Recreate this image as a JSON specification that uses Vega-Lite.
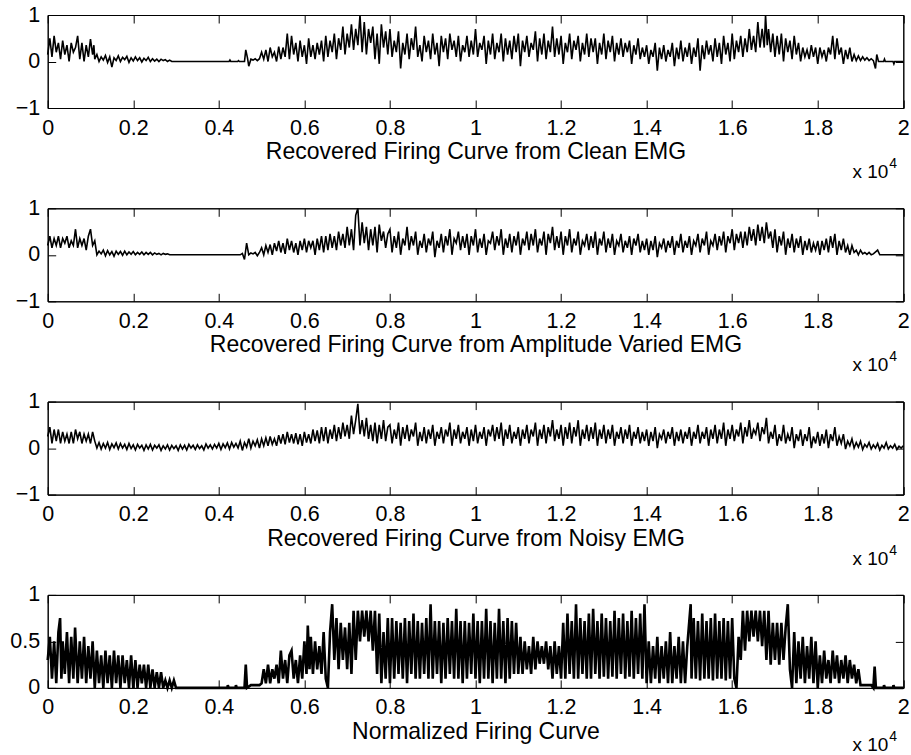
{
"$schema": "https://vega.github.io/schema/vega-lite/v6.json",
"padding": {"left": 8.7, "top": 3, "right": 0, "bottom": 0},
"background": "white",
"bounds": "flush",
"spacing": 100.3,
"config": {
 "view": {"stroke": "black", "strokeWidth": 1},
 "axis": {"domainColor": "black", "tickColor": "black", "labelColor": "black", "titleColor": "black", "labelFont": "Liberation Sans", "titleFont": "Liberation Sans", "labelFontSize": 21.5, "titleFontSize": 23, "titleFontWeight": "normal", "grid": false, "tickSize": -8, "domainWidth": 1, "tickWidth": 1, "labelFlush": false, "labelOverlap": false},
 "text": {"font": "Liberation Sans", "color": "black"}
},
"datasets": {
"clean": [{"x":0,"y":0.15},{"x":50,"y":0.5},{"x":100,"y":0.1},{"x":150,"y":0.55},{"x":200,"y":0.2},{"x":250,"y":0.4},{"x":300,"y":0.05},{"x":350,"y":0.45},{"x":400,"y":0.15},{"x":450,"y":0.35},{"x":500,"y":0.0},{"x":550,"y":0.4},{"x":600,"y":0.2},{"x":650,"y":0.3},{"x":700,"y":0.55},{"x":750,"y":0.05},{"x":800,"y":0.4},{"x":850,"y":0.0},{"x":900,"y":0.35},{"x":950,"y":0.1},{"x":1000,"y":0.48},{"x":1050,"y":0.15},{"x":1080,"y":0.35},{"x":1100,"y":0.05},{"x":1150,"y":0.15},{"x":1200,"y":0.0},{"x":1250,"y":0.1},{"x":1300,"y":0.03},{"x":1350,"y":0.13},{"x":1400,"y":-0.02},{"x":1450,"y":0.1},{"x":1500,"y":-0.12},{"x":1550,"y":0.08},{"x":1600,"y":0.02},{"x":1650,"y":0.12},{"x":1700,"y":0.0},{"x":1750,"y":0.09},{"x":1800,"y":0.04},{"x":1850,"y":0.11},{"x":1900,"y":-0.02},{"x":1950,"y":0.08},{"x":2000,"y":0.01},{"x":2050,"y":0.1},{"x":2100,"y":0.02},{"x":2150,"y":0.08},{"x":2200,"y":-0.01},{"x":2250,"y":0.07},{"x":2300,"y":0.02},{"x":2350,"y":0.09},{"x":2400,"y":0.0},{"x":2450,"y":0.06},{"x":2500,"y":0.01},{"x":2550,"y":0.05},{"x":2600,"y":0.0},{"x":2650,"y":0.05},{"x":2700,"y":0.02},{"x":2750,"y":0.04},{"x":2800,"y":0.0},{"x":2850,"y":0.03},{"x":2900,"y":0.0},{"x":4240,"y":0.0},{"x":4260,"y":0.03},{"x":4280,"y":0.0},{"x":4440,"y":0.0},{"x":4460,"y":0.02},{"x":4480,"y":0.0},{"x":4600,"y":0.0},{"x":4630,"y":0.25},{"x":4670,"y":0.08},{"x":4700,"y":-0.1},{"x":4750,"y":0.05},{"x":4800,"y":0.03},{"x":4850,"y":0.06},{"x":4900,"y":0.02},{"x":4950,"y":0.06},{"x":5000,"y":0.2},{"x":5050,"y":0.05},{"x":5100,"y":0.25},{"x":5150,"y":0.0},{"x":5200,"y":0.3},{"x":5250,"y":0.1},{"x":5300,"y":0.2},{"x":5350,"y":0.0},{"x":5400,"y":0.32},{"x":5450,"y":0.05},{"x":5500,"y":0.3},{"x":5550,"y":0.1},{"x":5600,"y":0.6},{"x":5650,"y":0.05},{"x":5700,"y":0.55},{"x":5750,"y":0.15},{"x":5800,"y":0.4},{"x":5850,"y":0.0},{"x":5900,"y":0.45},{"x":5950,"y":0.1},{"x":6000,"y":0.35},{"x":6050,"y":-0.05},{"x":6100,"y":0.5},{"x":6150,"y":0.1},{"x":6200,"y":0.35},{"x":6250,"y":0.05},{"x":6300,"y":0.4},{"x":6350,"y":0.15},{"x":6400,"y":0.45},{"x":6450,"y":0.0},{"x":6500,"y":0.55},{"x":6550,"y":0.1},{"x":6600,"y":0.45},{"x":6650,"y":0.2},{"x":6700,"y":0.6},{"x":6750,"y":0.05},{"x":6800,"y":0.5},{"x":6850,"y":0.25},{"x":6900,"y":0.75},{"x":6950,"y":0.15},{"x":7000,"y":0.6},{"x":7050,"y":0.3},{"x":7100,"y":0.8},{"x":7150,"y":0.25},{"x":7200,"y":0.7},{"x":7250,"y":0.35},{"x":7300,"y":1.0},{"x":7350,"y":0.2},{"x":7400,"y":0.85},{"x":7450,"y":0.15},{"x":7500,"y":0.7},{"x":7550,"y":0.4},{"x":7600,"y":0.75},{"x":7650,"y":0.05},{"x":7700,"y":0.6},{"x":7750,"y":-0.05},{"x":7800,"y":0.8},{"x":7850,"y":0.3},{"x":7900,"y":0.65},{"x":7950,"y":0.15},{"x":8000,"y":0.7},{"x":8050,"y":0.1},{"x":8100,"y":0.45},{"x":8150,"y":0.2},{"x":8200,"y":0.65},{"x":8250,"y":-0.15},{"x":8300,"y":0.4},{"x":8350,"y":0.15},{"x":8400,"y":0.6},{"x":8450,"y":0.05},{"x":8500,"y":0.5},{"x":8550,"y":0.25},{"x":8600,"y":0.75},{"x":8650,"y":0.1},{"x":8700,"y":0.35},{"x":8750,"y":0.0},{"x":8800,"y":0.55},{"x":8850,"y":0.2},{"x":8900,"y":0.45},{"x":8950,"y":0.05},{"x":9000,"y":0.6},{"x":9050,"y":0.15},{"x":9100,"y":0.4},{"x":9150,"y":-0.1},{"x":9200,"y":0.55},{"x":9250,"y":0.2},{"x":9300,"y":0.5},{"x":9350,"y":0.05},{"x":9400,"y":0.6},{"x":9450,"y":0.25},{"x":9500,"y":0.45},{"x":9550,"y":0.1},{"x":9600,"y":0.55},{"x":9650,"y":0.0},{"x":9700,"y":0.35},{"x":9750,"y":0.2},{"x":9800,"y":0.55},{"x":9850,"y":0.1},{"x":9900,"y":0.45},{"x":9950,"y":0.15},{"x":10000,"y":0.7},{"x":10050,"y":0.1},{"x":10100,"y":0.4},{"x":10150,"y":0.25},{"x":10200,"y":0.55},{"x":10250,"y":-0.05},{"x":10300,"y":0.45},{"x":10350,"y":0.15},{"x":10400,"y":0.6},{"x":10450,"y":0.05},{"x":10500,"y":0.4},{"x":10550,"y":0.2},{"x":10600,"y":0.6},{"x":10650,"y":0.0},{"x":10700,"y":0.5},{"x":10750,"y":0.15},{"x":10800,"y":0.45},{"x":10850,"y":0.05},{"x":10900,"y":0.55},{"x":10950,"y":0.2},{"x":11000,"y":0.6},{"x":11050,"y":-0.1},{"x":11100,"y":0.45},{"x":11150,"y":0.2},{"x":11200,"y":0.55},{"x":11250,"y":0.1},{"x":11300,"y":0.4},{"x":11350,"y":0.25},{"x":11400,"y":0.65},{"x":11450,"y":0.0},{"x":11500,"y":0.5},{"x":11550,"y":0.15},{"x":11600,"y":0.6},{"x":11650,"y":0.05},{"x":11700,"y":0.45},{"x":11750,"y":0.2},{"x":11800,"y":0.75},{"x":11850,"y":0.1},{"x":11900,"y":0.5},{"x":11950,"y":0.15},{"x":12000,"y":0.55},{"x":12050,"y":-0.05},{"x":12100,"y":0.4},{"x":12150,"y":0.2},{"x":12200,"y":0.6},{"x":12250,"y":0.05},{"x":12300,"y":0.45},{"x":12350,"y":0.25},{"x":12400,"y":0.55},{"x":12450,"y":0.0},{"x":12500,"y":0.4},{"x":12550,"y":0.15},{"x":12600,"y":0.6},{"x":12650,"y":0.1},{"x":12700,"y":0.5},{"x":12750,"y":0.2},{"x":12800,"y":0.5},{"x":12850,"y":-0.05},{"x":12900,"y":0.4},{"x":12950,"y":0.15},{"x":13000,"y":0.6},{"x":13050,"y":0.05},{"x":13100,"y":0.45},{"x":13150,"y":0.2},{"x":13200,"y":0.55},{"x":13250,"y":0.0},{"x":13300,"y":0.4},{"x":13350,"y":0.15},{"x":13400,"y":0.5},{"x":13450,"y":0.1},{"x":13500,"y":0.4},{"x":13550,"y":0.2},{"x":13600,"y":0.45},{"x":13650,"y":-0.05},{"x":13700,"y":0.35},{"x":13750,"y":0.15},{"x":13800,"y":0.5},{"x":13850,"y":0.05},{"x":13900,"y":0.3},{"x":13950,"y":0.1},{"x":14000,"y":0.35},{"x":14050,"y":-0.05},{"x":14100,"y":0.25},{"x":14150,"y":0.1},{"x":14200,"y":0.4},{"x":14250,"y":-0.2},{"x":14300,"y":0.3},{"x":14350,"y":0.05},{"x":14400,"y":0.35},{"x":14450,"y":0.0},{"x":14500,"y":0.25},{"x":14550,"y":0.1},{"x":14600,"y":0.4},{"x":14650,"y":-0.1},{"x":14700,"y":0.3},{"x":14750,"y":0.05},{"x":14800,"y":0.45},{"x":14850,"y":0.0},{"x":14900,"y":0.3},{"x":14950,"y":0.1},{"x":15000,"y":0.4},{"x":15050,"y":-0.05},{"x":15100,"y":0.3},{"x":15150,"y":0.1},{"x":15200,"y":0.5},{"x":15250,"y":-0.2},{"x":15300,"y":0.35},{"x":15350,"y":0.05},{"x":15400,"y":0.45},{"x":15450,"y":0.15},{"x":15500,"y":0.35},{"x":15550,"y":0.0},{"x":15600,"y":0.5},{"x":15650,"y":0.1},{"x":15700,"y":0.4},{"x":15750,"y":-0.05},{"x":15800,"y":0.55},{"x":15850,"y":0.15},{"x":15900,"y":0.4},{"x":15950,"y":0.0},{"x":16000,"y":0.6},{"x":16050,"y":0.05},{"x":16100,"y":0.45},{"x":16150,"y":0.2},{"x":16200,"y":0.55},{"x":16250,"y":0.1},{"x":16300,"y":0.5},{"x":16350,"y":0.2},{"x":16400,"y":0.7},{"x":16450,"y":0.25},{"x":16500,"y":0.55},{"x":16550,"y":0.2},{"x":16600,"y":0.85},{"x":16650,"y":0.3},{"x":16700,"y":0.7},{"x":16750,"y":0.3},{"x":16780,"y":1.0},{"x":16820,"y":0.35},{"x":16850,"y":0.7},{"x":16900,"y":0.2},{"x":16950,"y":0.6},{"x":17000,"y":0.1},{"x":17050,"y":0.55},{"x":17100,"y":0.15},{"x":17150,"y":0.6},{"x":17200,"y":0.0},{"x":17250,"y":0.5},{"x":17300,"y":0.2},{"x":17350,"y":0.45},{"x":17400,"y":0.05},{"x":17450,"y":0.55},{"x":17500,"y":0.15},{"x":17550,"y":0.4},{"x":17600,"y":0.0},{"x":17650,"y":0.3},{"x":17700,"y":0.1},{"x":17750,"y":0.25},{"x":17800,"y":0.05},{"x":17850,"y":0.35},{"x":17900,"y":0.1},{"x":17950,"y":0.3},{"x":18000,"y":-0.05},{"x":18050,"y":0.3},{"x":18100,"y":0.1},{"x":18150,"y":0.25},{"x":18200,"y":0.0},{"x":18250,"y":0.3},{"x":18300,"y":0.15},{"x":18350,"y":0.55},{"x":18400,"y":0.05},{"x":18450,"y":0.5},{"x":18500,"y":0.15},{"x":18550,"y":0.3},{"x":18600,"y":-0.05},{"x":18650,"y":0.25},{"x":18700,"y":0.05},{"x":18750,"y":0.3},{"x":18800,"y":0.0},{"x":18850,"y":0.15},{"x":18900,"y":0.02},{"x":18950,"y":0.12},{"x":19000,"y":0.02},{"x":19050,"y":0.1},{"x":19100,"y":0.03},{"x":19150,"y":0.08},{"x":19200,"y":0.02},{"x":19250,"y":0.06},{"x":19300,"y":0.02},{"x":19350,"y":-0.15},{"x":19380,"y":0.15},{"x":19420,"y":0.0},{"x":19540,"y":0.0},{"x":19560,"y":0.05},{"x":19580,"y":0.0},{"x":19760,"y":0.0},{"x":19780,"y":-0.05},{"x":19800,"y":0.0},{"x":20000,"y":0.0}],
"amp": [{"x":0,"y":0.2},{"x":50,"y":0.4},{"x":100,"y":0.15},{"x":150,"y":0.35},{"x":200,"y":0.2},{"x":250,"y":0.4},{"x":300,"y":0.15},{"x":350,"y":0.35},{"x":400,"y":0.25},{"x":450,"y":0.4},{"x":500,"y":0.15},{"x":550,"y":0.3},{"x":600,"y":0.2},{"x":650,"y":0.55},{"x":700,"y":0.15},{"x":750,"y":0.35},{"x":800,"y":0.2},{"x":850,"y":0.35},{"x":900,"y":0.1},{"x":950,"y":0.4},{"x":1000,"y":0.55},{"x":1050,"y":0.2},{"x":1100,"y":0.3},{"x":1150,"y":0.0},{"x":1200,"y":0.08},{"x":1250,"y":0.02},{"x":1300,"y":0.1},{"x":1350,"y":-0.02},{"x":1400,"y":0.09},{"x":1450,"y":0.0},{"x":1500,"y":0.07},{"x":1550,"y":-0.03},{"x":1600,"y":0.08},{"x":1650,"y":0.01},{"x":1700,"y":0.07},{"x":1750,"y":-0.01},{"x":1800,"y":0.08},{"x":1850,"y":0.0},{"x":1900,"y":0.06},{"x":1950,"y":0.01},{"x":2000,"y":0.07},{"x":2050,"y":0.0},{"x":2100,"y":0.05},{"x":2150,"y":0.01},{"x":2200,"y":0.06},{"x":2250,"y":0.0},{"x":2300,"y":0.05},{"x":2350,"y":0.01},{"x":2400,"y":0.05},{"x":2450,"y":0.0},{"x":2500,"y":0.04},{"x":2550,"y":0.01},{"x":2600,"y":0.03},{"x":2650,"y":0.0},{"x":2700,"y":0.03},{"x":2750,"y":0.01},{"x":2800,"y":0.02},{"x":2850,"y":0.0},{"x":4500,"y":0.0},{"x":4550,"y":0.03},{"x":4600,"y":-0.1},{"x":4650,"y":0.25},{"x":4700,"y":0.0},{"x":4750,"y":0.04},{"x":4800,"y":0.02},{"x":4850,"y":0.05},{"x":4900,"y":-0.02},{"x":4950,"y":0.05},{"x":5000,"y":0.15},{"x":5050,"y":0.0},{"x":5100,"y":0.2},{"x":5150,"y":0.05},{"x":5200,"y":0.22},{"x":5250,"y":0.0},{"x":5300,"y":0.25},{"x":5350,"y":0.08},{"x":5400,"y":0.3},{"x":5450,"y":0.05},{"x":5500,"y":0.25},{"x":5550,"y":0.02},{"x":5600,"y":0.35},{"x":5650,"y":0.1},{"x":5700,"y":0.3},{"x":5750,"y":0.05},{"x":5800,"y":0.25},{"x":5850,"y":0.0},{"x":5900,"y":0.3},{"x":5950,"y":0.1},{"x":6000,"y":0.35},{"x":6050,"y":0.05},{"x":6100,"y":0.3},{"x":6150,"y":0.15},{"x":6200,"y":0.3},{"x":6250,"y":0.0},{"x":6300,"y":0.35},{"x":6350,"y":0.1},{"x":6400,"y":0.4},{"x":6450,"y":0.05},{"x":6500,"y":0.4},{"x":6550,"y":0.1},{"x":6600,"y":0.45},{"x":6650,"y":0.15},{"x":6700,"y":0.4},{"x":6750,"y":0.1},{"x":6800,"y":0.5},{"x":6850,"y":0.2},{"x":6900,"y":0.45},{"x":6950,"y":0.15},{"x":7000,"y":0.6},{"x":7050,"y":0.2},{"x":7100,"y":0.55},{"x":7150,"y":0.1},{"x":7200,"y":0.85},{"x":7250,"y":1.0},{"x":7300,"y":0.2},{"x":7350,"y":0.7},{"x":7400,"y":0.25},{"x":7450,"y":0.6},{"x":7500,"y":0.1},{"x":7550,"y":0.55},{"x":7600,"y":0.2},{"x":7650,"y":0.6},{"x":7700,"y":0.05},{"x":7750,"y":0.65},{"x":7800,"y":0.3},{"x":7850,"y":0.5},{"x":7900,"y":0.15},{"x":7950,"y":0.45},{"x":8000,"y":0.55},{"x":8050,"y":0.05},{"x":8100,"y":0.4},{"x":8150,"y":0.15},{"x":8200,"y":0.5},{"x":8250,"y":0.0},{"x":8300,"y":0.35},{"x":8350,"y":0.2},{"x":8400,"y":0.6},{"x":8450,"y":0.1},{"x":8500,"y":0.4},{"x":8550,"y":0.2},{"x":8600,"y":0.5},{"x":8650,"y":0.0},{"x":8700,"y":0.3},{"x":8750,"y":0.15},{"x":8800,"y":0.45},{"x":8850,"y":0.05},{"x":8900,"y":0.35},{"x":8950,"y":0.2},{"x":9000,"y":0.5},{"x":9050,"y":-0.05},{"x":9100,"y":0.3},{"x":9150,"y":0.15},{"x":9200,"y":0.45},{"x":9250,"y":0.05},{"x":9300,"y":0.4},{"x":9350,"y":0.2},{"x":9400,"y":0.55},{"x":9450,"y":0.0},{"x":9500,"y":0.35},{"x":9550,"y":0.25},{"x":9600,"y":0.5},{"x":9650,"y":0.1},{"x":9700,"y":0.4},{"x":9750,"y":0.15},{"x":9800,"y":0.45},{"x":9850,"y":0.0},{"x":9900,"y":0.4},{"x":9950,"y":0.2},{"x":10000,"y":0.55},{"x":10050,"y":0.05},{"x":10100,"y":0.35},{"x":10150,"y":0.15},{"x":10200,"y":0.45},{"x":10250,"y":0.0},{"x":10300,"y":0.3},{"x":10350,"y":0.25},{"x":10400,"y":0.5},{"x":10450,"y":0.1},{"x":10500,"y":0.4},{"x":10550,"y":0.2},{"x":10600,"y":0.55},{"x":10650,"y":0.0},{"x":10700,"y":0.35},{"x":10750,"y":0.15},{"x":10800,"y":0.45},{"x":10850,"y":0.05},{"x":10900,"y":0.4},{"x":10950,"y":0.2},{"x":11000,"y":0.5},{"x":11050,"y":0.0},{"x":11100,"y":0.35},{"x":11150,"y":0.2},{"x":11200,"y":0.5},{"x":11250,"y":0.1},{"x":11300,"y":0.45},{"x":11350,"y":0.2},{"x":11400,"y":0.55},{"x":11450,"y":0.05},{"x":11500,"y":0.35},{"x":11550,"y":0.2},{"x":11600,"y":0.5},{"x":11650,"y":0.0},{"x":11700,"y":0.45},{"x":11750,"y":0.25},{"x":11800,"y":0.6},{"x":11850,"y":0.1},{"x":11900,"y":0.4},{"x":11950,"y":0.15},{"x":12000,"y":0.5},{"x":12050,"y":0.0},{"x":12100,"y":0.4},{"x":12150,"y":0.2},{"x":12200,"y":0.55},{"x":12250,"y":0.05},{"x":12300,"y":0.35},{"x":12350,"y":0.2},{"x":12400,"y":0.5},{"x":12450,"y":0.0},{"x":12500,"y":0.3},{"x":12550,"y":0.2},{"x":12600,"y":0.45},{"x":12650,"y":0.1},{"x":12700,"y":0.4},{"x":12750,"y":0.15},{"x":12800,"y":0.5},{"x":12850,"y":0.0},{"x":12900,"y":0.35},{"x":12950,"y":0.2},{"x":13000,"y":0.5},{"x":13050,"y":0.05},{"x":13100,"y":0.35},{"x":13150,"y":0.15},{"x":13200,"y":0.45},{"x":13250,"y":0.0},{"x":13300,"y":0.3},{"x":13350,"y":0.2},{"x":13400,"y":0.45},{"x":13450,"y":0.05},{"x":13500,"y":0.3},{"x":13550,"y":0.15},{"x":13600,"y":0.4},{"x":13650,"y":0.0},{"x":13700,"y":0.35},{"x":13750,"y":0.2},{"x":13800,"y":0.45},{"x":13850,"y":0.05},{"x":13900,"y":0.3},{"x":13950,"y":0.1},{"x":14000,"y":0.35},{"x":14050,"y":0.0},{"x":14100,"y":0.3},{"x":14150,"y":0.1},{"x":14200,"y":0.4},{"x":14250,"y":-0.05},{"x":14300,"y":0.25},{"x":14350,"y":0.15},{"x":14400,"y":0.35},{"x":14450,"y":0.05},{"x":14500,"y":0.3},{"x":14550,"y":0.15},{"x":14600,"y":0.4},{"x":14650,"y":0.0},{"x":14700,"y":0.3},{"x":14750,"y":0.15},{"x":14800,"y":0.45},{"x":14850,"y":0.05},{"x":14900,"y":0.3},{"x":14950,"y":0.15},{"x":15000,"y":0.4},{"x":15050,"y":0.0},{"x":15100,"y":0.3},{"x":15150,"y":0.2},{"x":15200,"y":0.45},{"x":15250,"y":0.05},{"x":15300,"y":0.35},{"x":15350,"y":0.2},{"x":15400,"y":0.5},{"x":15450,"y":0.0},{"x":15500,"y":0.3},{"x":15550,"y":0.2},{"x":15600,"y":0.45},{"x":15650,"y":0.1},{"x":15700,"y":0.4},{"x":15750,"y":0.2},{"x":15800,"y":0.5},{"x":15850,"y":0.05},{"x":15900,"y":0.4},{"x":15950,"y":0.25},{"x":16000,"y":0.55},{"x":16050,"y":0.1},{"x":16100,"y":0.45},{"x":16150,"y":0.25},{"x":16200,"y":0.5},{"x":16250,"y":0.15},{"x":16300,"y":0.5},{"x":16350,"y":0.2},{"x":16400,"y":0.6},{"x":16450,"y":0.3},{"x":16500,"y":0.55},{"x":16550,"y":0.2},{"x":16600,"y":0.65},{"x":16650,"y":0.3},{"x":16700,"y":0.6},{"x":16750,"y":0.25},{"x":16800,"y":0.7},{"x":16850,"y":0.35},{"x":16900,"y":0.5},{"x":16950,"y":0.15},{"x":17000,"y":0.55},{"x":17050,"y":0.05},{"x":17100,"y":0.4},{"x":17150,"y":0.2},{"x":17200,"y":0.5},{"x":17250,"y":0.0},{"x":17300,"y":0.35},{"x":17350,"y":0.15},{"x":17400,"y":0.45},{"x":17450,"y":0.05},{"x":17500,"y":0.35},{"x":17550,"y":0.15},{"x":17600,"y":0.4},{"x":17650,"y":0.0},{"x":17700,"y":0.3},{"x":17750,"y":0.1},{"x":17800,"y":0.35},{"x":17850,"y":0.05},{"x":17900,"y":0.25},{"x":17950,"y":0.1},{"x":18000,"y":0.3},{"x":18050,"y":0.0},{"x":18100,"y":0.3},{"x":18150,"y":0.1},{"x":18200,"y":0.35},{"x":18250,"y":0.05},{"x":18300,"y":0.4},{"x":18350,"y":0.15},{"x":18400,"y":0.45},{"x":18450,"y":0.0},{"x":18500,"y":0.3},{"x":18550,"y":0.1},{"x":18600,"y":0.35},{"x":18650,"y":0.05},{"x":18700,"y":0.2},{"x":18750,"y":0.0},{"x":18800,"y":0.2},{"x":18850,"y":0.05},{"x":18900,"y":0.1},{"x":18950,"y":0.0},{"x":19000,"y":0.1},{"x":19050,"y":0.02},{"x":19100,"y":0.05},{"x":19150,"y":0.01},{"x":19200,"y":0.05},{"x":19250,"y":0.0},{"x":19300,"y":0.02},{"x":19400,"y":0.1},{"x":19450,"y":0.0},{"x":20000,"y":0.0}],
"noisy": [{"x":0,"y":0.25},{"x":50,"y":0.45},{"x":100,"y":0.1},{"x":150,"y":0.4},{"x":200,"y":0.15},{"x":250,"y":0.4},{"x":300,"y":0.1},{"x":350,"y":0.35},{"x":400,"y":0.15},{"x":450,"y":0.3},{"x":500,"y":0.1},{"x":550,"y":0.35},{"x":600,"y":0.1},{"x":650,"y":0.4},{"x":700,"y":0.2},{"x":750,"y":0.35},{"x":800,"y":0.1},{"x":850,"y":0.3},{"x":900,"y":0.15},{"x":950,"y":0.3},{"x":1000,"y":0.1},{"x":1050,"y":0.35},{"x":1100,"y":0.15},{"x":1150,"y":0.0},{"x":1200,"y":0.12},{"x":1250,"y":-0.02},{"x":1300,"y":0.1},{"x":1350,"y":0.0},{"x":1400,"y":0.12},{"x":1450,"y":-0.03},{"x":1500,"y":0.09},{"x":1550,"y":0.01},{"x":1600,"y":0.11},{"x":1650,"y":-0.02},{"x":1700,"y":0.1},{"x":1750,"y":0.0},{"x":1800,"y":0.08},{"x":1850,"y":-0.03},{"x":1900,"y":0.1},{"x":1950,"y":-0.01},{"x":2000,"y":0.07},{"x":2050,"y":-0.04},{"x":2100,"y":0.08},{"x":2150,"y":0.0},{"x":2200,"y":0.06},{"x":2250,"y":-0.05},{"x":2300,"y":0.07},{"x":2350,"y":-0.02},{"x":2400,"y":0.08},{"x":2450,"y":-0.04},{"x":2500,"y":0.06},{"x":2550,"y":0.0},{"x":2600,"y":0.07},{"x":2650,"y":-0.05},{"x":2700,"y":0.05},{"x":2750,"y":-0.02},{"x":2800,"y":0.07},{"x":2850,"y":-0.04},{"x":2900,"y":0.06},{"x":2950,"y":-0.01},{"x":3000,"y":0.05},{"x":3050,"y":-0.05},{"x":3100,"y":0.07},{"x":3150,"y":-0.02},{"x":3200,"y":0.06},{"x":3250,"y":-0.04},{"x":3300,"y":0.08},{"x":3350,"y":0.0},{"x":3400,"y":0.06},{"x":3450,"y":-0.03},{"x":3500,"y":0.07},{"x":3550,"y":-0.01},{"x":3600,"y":0.05},{"x":3650,"y":-0.04},{"x":3700,"y":0.09},{"x":3750,"y":0.0},{"x":3800,"y":0.07},{"x":3850,"y":-0.02},{"x":3900,"y":0.08},{"x":3950,"y":0.0},{"x":4000,"y":0.1},{"x":4050,"y":-0.03},{"x":4100,"y":0.09},{"x":4150,"y":0.01},{"x":4200,"y":0.11},{"x":4250,"y":-0.02},{"x":4300,"y":0.12},{"x":4350,"y":0.02},{"x":4400,"y":0.1},{"x":4450,"y":0.0},{"x":4500,"y":0.15},{"x":4550,"y":-0.05},{"x":4600,"y":0.12},{"x":4650,"y":0.02},{"x":4700,"y":0.2},{"x":4750,"y":0.0},{"x":4800,"y":0.15},{"x":4850,"y":0.05},{"x":4900,"y":0.18},{"x":4950,"y":0.0},{"x":5000,"y":0.2},{"x":5050,"y":0.05},{"x":5100,"y":0.22},{"x":5150,"y":0.05},{"x":5200,"y":0.25},{"x":5250,"y":0.08},{"x":5300,"y":0.2},{"x":5350,"y":0.05},{"x":5400,"y":0.28},{"x":5450,"y":0.1},{"x":5500,"y":0.3},{"x":5550,"y":0.08},{"x":5600,"y":0.35},{"x":5650,"y":0.12},{"x":5700,"y":0.3},{"x":5750,"y":0.1},{"x":5800,"y":0.32},{"x":5850,"y":0.08},{"x":5900,"y":0.3},{"x":5950,"y":0.05},{"x":6000,"y":0.35},{"x":6050,"y":0.12},{"x":6100,"y":0.3},{"x":6150,"y":0.1},{"x":6200,"y":0.4},{"x":6250,"y":0.15},{"x":6300,"y":0.38},{"x":6350,"y":0.1},{"x":6400,"y":0.45},{"x":6450,"y":0.15},{"x":6500,"y":0.45},{"x":6550,"y":0.1},{"x":6600,"y":0.4},{"x":6650,"y":0.2},{"x":6700,"y":0.5},{"x":6750,"y":0.15},{"x":6800,"y":0.45},{"x":6850,"y":0.2},{"x":6900,"y":0.55},{"x":6950,"y":0.25},{"x":7000,"y":0.5},{"x":7050,"y":0.2},{"x":7100,"y":0.7},{"x":7150,"y":0.3},{"x":7200,"y":0.6},{"x":7250,"y":0.95},{"x":7300,"y":0.3},{"x":7350,"y":0.6},{"x":7400,"y":0.25},{"x":7450,"y":0.65},{"x":7500,"y":0.2},{"x":7550,"y":0.5},{"x":7600,"y":0.15},{"x":7650,"y":0.55},{"x":7700,"y":0.1},{"x":7750,"y":0.5},{"x":7800,"y":0.2},{"x":7850,"y":0.6},{"x":7900,"y":0.15},{"x":7950,"y":0.45},{"x":8000,"y":0.5},{"x":8050,"y":0.1},{"x":8100,"y":0.4},{"x":8150,"y":0.2},{"x":8200,"y":0.55},{"x":8250,"y":0.05},{"x":8300,"y":0.45},{"x":8350,"y":0.2},{"x":8400,"y":0.5},{"x":8450,"y":0.15},{"x":8500,"y":0.4},{"x":8550,"y":0.25},{"x":8600,"y":0.55},{"x":8650,"y":0.05},{"x":8700,"y":0.35},{"x":8750,"y":0.15},{"x":8800,"y":0.45},{"x":8850,"y":0.1},{"x":8900,"y":0.4},{"x":8950,"y":0.2},{"x":9000,"y":0.5},{"x":9050,"y":0.05},{"x":9100,"y":0.35},{"x":9150,"y":0.2},{"x":9200,"y":0.45},{"x":9250,"y":0.1},{"x":9300,"y":0.4},{"x":9350,"y":0.25},{"x":9400,"y":0.55},{"x":9450,"y":0.05},{"x":9500,"y":0.4},{"x":9550,"y":0.2},{"x":9600,"y":0.5},{"x":9650,"y":0.1},{"x":9700,"y":0.35},{"x":9750,"y":0.2},{"x":9800,"y":0.45},{"x":9850,"y":0.05},{"x":9900,"y":0.4},{"x":9950,"y":0.15},{"x":10000,"y":0.5},{"x":10050,"y":0.1},{"x":10100,"y":0.35},{"x":10150,"y":0.2},{"x":10200,"y":0.45},{"x":10250,"y":0.05},{"x":10300,"y":0.4},{"x":10350,"y":0.25},{"x":10400,"y":0.5},{"x":10450,"y":0.15},{"x":10500,"y":0.45},{"x":10550,"y":0.2},{"x":10600,"y":0.55},{"x":10650,"y":0.05},{"x":10700,"y":0.4},{"x":10750,"y":0.2},{"x":10800,"y":0.5},{"x":10850,"y":0.1},{"x":10900,"y":0.35},{"x":10950,"y":0.2},{"x":11000,"y":0.45},{"x":11050,"y":0.05},{"x":11100,"y":0.4},{"x":11150,"y":0.2},{"x":11200,"y":0.5},{"x":11250,"y":0.1},{"x":11300,"y":0.4},{"x":11350,"y":0.25},{"x":11400,"y":0.55},{"x":11450,"y":0.05},{"x":11500,"y":0.4},{"x":11550,"y":0.2},{"x":11600,"y":0.5},{"x":11650,"y":0.1},{"x":11700,"y":0.45},{"x":11750,"y":0.25},{"x":11800,"y":0.6},{"x":11850,"y":0.15},{"x":11900,"y":0.4},{"x":11950,"y":0.2},{"x":12000,"y":0.5},{"x":12050,"y":0.05},{"x":12100,"y":0.45},{"x":12150,"y":0.2},{"x":12200,"y":0.55},{"x":12250,"y":0.1},{"x":12300,"y":0.45},{"x":12350,"y":0.25},{"x":12400,"y":0.6},{"x":12450,"y":0.05},{"x":12500,"y":0.4},{"x":12550,"y":0.2},{"x":12600,"y":0.5},{"x":12650,"y":0.15},{"x":12700,"y":0.45},{"x":12750,"y":0.2},{"x":12800,"y":0.55},{"x":12850,"y":0.05},{"x":12900,"y":0.4},{"x":12950,"y":0.2},{"x":13000,"y":0.5},{"x":13050,"y":0.1},{"x":13100,"y":0.4},{"x":13150,"y":0.2},{"x":13200,"y":0.5},{"x":13250,"y":0.05},{"x":13300,"y":0.35},{"x":13350,"y":0.2},{"x":13400,"y":0.45},{"x":13450,"y":0.1},{"x":13500,"y":0.4},{"x":13550,"y":0.2},{"x":13600,"y":0.5},{"x":13650,"y":0.05},{"x":13700,"y":0.35},{"x":13750,"y":0.2},{"x":13800,"y":0.45},{"x":13850,"y":0.1},{"x":13900,"y":0.35},{"x":13950,"y":0.15},{"x":14000,"y":0.4},{"x":14050,"y":0.05},{"x":14100,"y":0.35},{"x":14150,"y":0.15},{"x":14200,"y":0.45},{"x":14250,"y":0.0},{"x":14300,"y":0.3},{"x":14350,"y":0.2},{"x":14400,"y":0.4},{"x":14450,"y":0.1},{"x":14500,"y":0.35},{"x":14550,"y":0.2},{"x":14600,"y":0.45},{"x":14650,"y":0.05},{"x":14700,"y":0.35},{"x":14750,"y":0.15},{"x":14800,"y":0.4},{"x":14850,"y":0.1},{"x":14900,"y":0.35},{"x":14950,"y":0.2},{"x":15000,"y":0.45},{"x":15050,"y":0.05},{"x":15100,"y":0.35},{"x":15150,"y":0.2},{"x":15200,"y":0.5},{"x":15250,"y":0.1},{"x":15300,"y":0.35},{"x":15350,"y":0.2},{"x":15400,"y":0.45},{"x":15450,"y":0.05},{"x":15500,"y":0.4},{"x":15550,"y":0.2},{"x":15600,"y":0.5},{"x":15650,"y":0.1},{"x":15700,"y":0.4},{"x":15750,"y":0.2},{"x":15800,"y":0.55},{"x":15850,"y":0.05},{"x":15900,"y":0.4},{"x":15950,"y":0.2},{"x":16000,"y":0.5},{"x":16050,"y":0.15},{"x":16100,"y":0.4},{"x":16150,"y":0.25},{"x":16200,"y":0.55},{"x":16250,"y":0.1},{"x":16300,"y":0.45},{"x":16350,"y":0.25},{"x":16400,"y":0.6},{"x":16450,"y":0.2},{"x":16500,"y":0.4},{"x":16550,"y":0.3},{"x":16600,"y":0.55},{"x":16650,"y":0.15},{"x":16700,"y":0.45},{"x":16750,"y":0.3},{"x":16800,"y":0.65},{"x":16850,"y":0.1},{"x":16900,"y":0.35},{"x":16950,"y":0.2},{"x":17000,"y":0.5},{"x":17050,"y":0.05},{"x":17100,"y":0.3},{"x":17150,"y":0.15},{"x":17200,"y":0.5},{"x":17250,"y":0.1},{"x":17300,"y":0.3},{"x":17350,"y":0.15},{"x":17400,"y":0.45},{"x":17450,"y":0.0},{"x":17500,"y":0.3},{"x":17550,"y":0.15},{"x":17600,"y":0.4},{"x":17650,"y":0.05},{"x":17700,"y":0.3},{"x":17750,"y":0.15},{"x":17800,"y":0.45},{"x":17850,"y":0.0},{"x":17900,"y":0.25},{"x":17950,"y":0.1},{"x":18000,"y":0.35},{"x":18050,"y":0.05},{"x":18100,"y":0.3},{"x":18150,"y":0.1},{"x":18200,"y":0.4},{"x":18250,"y":0.0},{"x":18300,"y":0.3},{"x":18350,"y":0.15},{"x":18400,"y":0.45},{"x":18450,"y":0.05},{"x":18500,"y":0.25},{"x":18550,"y":0.1},{"x":18600,"y":0.3},{"x":18650,"y":-0.02},{"x":18700,"y":0.15},{"x":18750,"y":0.05},{"x":18800,"y":0.2},{"x":18850,"y":0.0},{"x":18900,"y":0.12},{"x":18950,"y":0.02},{"x":19000,"y":0.15},{"x":19050,"y":-0.03},{"x":19100,"y":0.08},{"x":19150,"y":0.02},{"x":19200,"y":0.12},{"x":19250,"y":-0.02},{"x":19300,"y":0.07},{"x":19350,"y":0.0},{"x":19400,"y":0.1},{"x":19450,"y":-0.04},{"x":19500,"y":0.06},{"x":19550,"y":0.0},{"x":19600,"y":0.12},{"x":19650,"y":-0.02},{"x":19700,"y":0.05},{"x":19750,"y":0.0},{"x":19800,"y":0.08},{"x":19850,"y":-0.03},{"x":19900,"y":0.04},{"x":19950,"y":0.0},{"x":20000,"y":0.05}],
"norm": [{"x":0,"y":0.3},{"x":50,"y":0.55},{"x":100,"y":0.1},{"x":150,"y":0.5},{"x":200,"y":0.05},{"x":250,"y":0.6},{"x":290,"y":0.75},{"x":320,"y":0.1},{"x":350,"y":0.5},{"x":400,"y":0.15},{"x":450,"y":0.6},{"x":500,"y":0.05},{"x":550,"y":0.55},{"x":600,"y":0.1},{"x":640,"y":0.65},{"x":700,"y":0.05},{"x":750,"y":0.5},{"x":800,"y":0.1},{"x":850,"y":0.55},{"x":900,"y":0.05},{"x":950,"y":0.45},{"x":1000,"y":0.1},{"x":1050,"y":0.5},{"x":1100,"y":0.0},{"x":1150,"y":0.4},{"x":1200,"y":0.05},{"x":1250,"y":0.35},{"x":1300,"y":0.0},{"x":1350,"y":0.4},{"x":1400,"y":0.05},{"x":1450,"y":0.35},{"x":1500,"y":0.0},{"x":1550,"y":0.4},{"x":1600,"y":0.05},{"x":1650,"y":0.35},{"x":1700,"y":0.0},{"x":1750,"y":0.35},{"x":1800,"y":0.05},{"x":1850,"y":0.3},{"x":1900,"y":0.0},{"x":1950,"y":0.35},{"x":2000,"y":0.0},{"x":2050,"y":0.3},{"x":2100,"y":0.0},{"x":2150,"y":0.25},{"x":2200,"y":0.05},{"x":2250,"y":0.25},{"x":2300,"y":0.0},{"x":2350,"y":0.25},{"x":2400,"y":0.0},{"x":2450,"y":0.2},{"x":2500,"y":0.0},{"x":2550,"y":0.17},{"x":2600,"y":0.0},{"x":2650,"y":0.17},{"x":2700,"y":0.0},{"x":2750,"y":0.08},{"x":2800,"y":0.0},{"x":2850,"y":0.08},{"x":2900,"y":0.0},{"x":2950,"y":0.08},{"x":3000,"y":0.0},{"x":4200,"y":0.0},{"x":4210,"y":0.03},{"x":4230,"y":0.0},{"x":4390,"y":0.0},{"x":4400,"y":0.03},{"x":4420,"y":0.0},{"x":4600,"y":0.0},{"x":4630,"y":0.25},{"x":4660,"y":0.0},{"x":4750,"y":0.03},{"x":4850,"y":0.03},{"x":4950,"y":0.03},{"x":5000,"y":0.05},{"x":5050,"y":0.2},{"x":5100,"y":0.05},{"x":5150,"y":0.25},{"x":5200,"y":0.05},{"x":5250,"y":0.2},{"x":5300,"y":0.1},{"x":5350,"y":0.25},{"x":5400,"y":0.05},{"x":5450,"y":0.4},{"x":5500,"y":0.1},{"x":5550,"y":0.3},{"x":5600,"y":0.05},{"x":5650,"y":0.35},{"x":5700,"y":0.4},{"x":5750,"y":0.1},{"x":5800,"y":0.3},{"x":5850,"y":0.05},{"x":5900,"y":0.35},{"x":5950,"y":0.1},{"x":6000,"y":0.5},{"x":6050,"y":0.15},{"x":6080,"y":0.67},{"x":6120,"y":0.2},{"x":6150,"y":0.55},{"x":6200,"y":0.15},{"x":6250,"y":0.5},{"x":6300,"y":0.2},{"x":6350,"y":0.45},{"x":6400,"y":0.15},{"x":6450,"y":0.6},{"x":6500,"y":0.1},{"x":6550,"y":0.0},{"x":6600,"y":0.6},{"x":6650,"y":0.9},{"x":6700,"y":0.3},{"x":6750,"y":0.75},{"x":6800,"y":0.2},{"x":6850,"y":0.7},{"x":6900,"y":0.3},{"x":6950,"y":0.65},{"x":7000,"y":0.2},{"x":7050,"y":0.7},{"x":7100,"y":0.15},{"x":7150,"y":0.83},{"x":7200,"y":0.3},{"x":7250,"y":0.83},{"x":7300,"y":0.5},{"x":7350,"y":0.83},{"x":7400,"y":0.55},{"x":7450,"y":0.83},{"x":7500,"y":0.5},{"x":7550,"y":0.83},{"x":7600,"y":0.4},{"x":7650,"y":0.83},{"x":7700,"y":0.15},{"x":7750,"y":0.8},{"x":7800,"y":0.05},{"x":7850,"y":0.6},{"x":7900,"y":0.1},{"x":7950,"y":0.75},{"x":8000,"y":0.05},{"x":8050,"y":0.75},{"x":8100,"y":0.1},{"x":8150,"y":0.72},{"x":8200,"y":0.15},{"x":8250,"y":0.7},{"x":8300,"y":0.1},{"x":8350,"y":0.75},{"x":8400,"y":0.05},{"x":8450,"y":0.72},{"x":8500,"y":0.15},{"x":8550,"y":0.8},{"x":8600,"y":0.1},{"x":8650,"y":0.72},{"x":8700,"y":0.1},{"x":8750,"y":0.7},{"x":8800,"y":0.15},{"x":8850,"y":0.75},{"x":8900,"y":0.1},{"x":8950,"y":0.9},{"x":9000,"y":0.1},{"x":9050,"y":0.72},{"x":9100,"y":0.15},{"x":9150,"y":0.72},{"x":9200,"y":0.05},{"x":9250,"y":0.7},{"x":9300,"y":0.1},{"x":9350,"y":0.75},{"x":9400,"y":0.15},{"x":9450,"y":0.72},{"x":9500,"y":0.1},{"x":9550,"y":0.85},{"x":9600,"y":0.1},{"x":9650,"y":0.72},{"x":9700,"y":0.05},{"x":9750,"y":0.72},{"x":9800,"y":0.1},{"x":9850,"y":0.7},{"x":9900,"y":0.15},{"x":9950,"y":0.8},{"x":10000,"y":0.1},{"x":10050,"y":0.72},{"x":10100,"y":0.05},{"x":10150,"y":0.72},{"x":10200,"y":0.1},{"x":10250,"y":0.85},{"x":10300,"y":0.1},{"x":10350,"y":0.72},{"x":10400,"y":0.05},{"x":10450,"y":0.7},{"x":10500,"y":0.1},{"x":10550,"y":0.85},{"x":10600,"y":0.1},{"x":10650,"y":0.72},{"x":10700,"y":0.05},{"x":10750,"y":0.75},{"x":10800,"y":0.1},{"x":10850,"y":0.72},{"x":10900,"y":0.15},{"x":10950,"y":0.7},{"x":11000,"y":0.15},{"x":11050,"y":0.55},{"x":11100,"y":0.15},{"x":11150,"y":0.5},{"x":11200,"y":0.2},{"x":11250,"y":0.45},{"x":11300,"y":0.15},{"x":11350,"y":0.55},{"x":11400,"y":0.2},{"x":11450,"y":0.5},{"x":11500,"y":0.26},{"x":11550,"y":0.45},{"x":11600,"y":0.26},{"x":11650,"y":0.5},{"x":11700,"y":0.2},{"x":11750,"y":0.45},{"x":11800,"y":0.1},{"x":11850,"y":0.5},{"x":11900,"y":0.15},{"x":11950,"y":0.45},{"x":12000,"y":0.1},{"x":12050,"y":0.7},{"x":12100,"y":0.1},{"x":12150,"y":0.8},{"x":12200,"y":0.15},{"x":12250,"y":0.72},{"x":12300,"y":0.1},{"x":12350,"y":0.9},{"x":12400,"y":0.1},{"x":12450,"y":0.75},{"x":12500,"y":0.15},{"x":12550,"y":0.72},{"x":12600,"y":0.1},{"x":12650,"y":0.8},{"x":12700,"y":0.1},{"x":12750,"y":0.85},{"x":12800,"y":0.15},{"x":12850,"y":0.72},{"x":12900,"y":0.1},{"x":12950,"y":0.8},{"x":13000,"y":0.12},{"x":13050,"y":0.75},{"x":13100,"y":0.1},{"x":13150,"y":0.72},{"x":13200,"y":0.12},{"x":13250,"y":0.83},{"x":13300,"y":0.1},{"x":13350,"y":0.75},{"x":13400,"y":0.15},{"x":13450,"y":0.8},{"x":13500,"y":0.1},{"x":13550,"y":0.72},{"x":13600,"y":0.12},{"x":13650,"y":0.83},{"x":13700,"y":0.1},{"x":13750,"y":0.75},{"x":13800,"y":0.15},{"x":13850,"y":0.8},{"x":13900,"y":0.1},{"x":13950,"y":0.9},{"x":14000,"y":0.05},{"x":14050,"y":0.5},{"x":14100,"y":0.05},{"x":14150,"y":0.45},{"x":14200,"y":0.1},{"x":14250,"y":0.55},{"x":14300,"y":0.05},{"x":14350,"y":0.45},{"x":14400,"y":0.1},{"x":14450,"y":0.5},{"x":14500,"y":0.05},{"x":14550,"y":0.6},{"x":14600,"y":0.05},{"x":14650,"y":0.45},{"x":14700,"y":0.1},{"x":14750,"y":0.55},{"x":14800,"y":0.05},{"x":14850,"y":0.5},{"x":14900,"y":0.05},{"x":14950,"y":0.45},{"x":15030,"y":0.9},{"x":15050,"y":0.1},{"x":15100,"y":0.75},{"x":15150,"y":0.1},{"x":15200,"y":0.72},{"x":15250,"y":0.08},{"x":15300,"y":0.8},{"x":15350,"y":0.1},{"x":15400,"y":0.72},{"x":15450,"y":0.1},{"x":15500,"y":0.75},{"x":15550,"y":0.08},{"x":15600,"y":0.8},{"x":15650,"y":0.1},{"x":15700,"y":0.72},{"x":15750,"y":0.1},{"x":15800,"y":0.75},{"x":15850,"y":0.08},{"x":15900,"y":0.72},{"x":15950,"y":0.1},{"x":16000,"y":0.75},{"x":16050,"y":0.1},{"x":16100,"y":0.0},{"x":16150,"y":0.55},{"x":16200,"y":0.3},{"x":16250,"y":0.83},{"x":16300,"y":0.4},{"x":16350,"y":0.83},{"x":16400,"y":0.5},{"x":16450,"y":0.83},{"x":16500,"y":0.55},{"x":16550,"y":0.83},{"x":16600,"y":0.5},{"x":16650,"y":0.83},{"x":16700,"y":0.45},{"x":16750,"y":0.83},{"x":16800,"y":0.3},{"x":16850,"y":0.83},{"x":16900,"y":0.25},{"x":16950,"y":0.7},{"x":17000,"y":0.3},{"x":17050,"y":0.7},{"x":17100,"y":0.25},{"x":17150,"y":0.7},{"x":17200,"y":0.3},{"x":17250,"y":0.65},{"x":17300,"y":0.9},{"x":17350,"y":0.2},{"x":17400,"y":0.0},{"x":17450,"y":0.6},{"x":17500,"y":0.05},{"x":17550,"y":0.5},{"x":17600,"y":0.1},{"x":17650,"y":0.55},{"x":17700,"y":0.05},{"x":17750,"y":0.45},{"x":17800,"y":0.1},{"x":17850,"y":0.55},{"x":17900,"y":0.05},{"x":17950,"y":0.5},{"x":18000,"y":0.0},{"x":18050,"y":0.35},{"x":18100,"y":0.05},{"x":18150,"y":0.4},{"x":18200,"y":0.1},{"x":18250,"y":0.3},{"x":18300,"y":0.05},{"x":18350,"y":0.4},{"x":18400,"y":0.1},{"x":18450,"y":0.35},{"x":18500,"y":0.05},{"x":18550,"y":0.3},{"x":18600,"y":0.1},{"x":18650,"y":0.35},{"x":18700,"y":0.05},{"x":18750,"y":0.3},{"x":18800,"y":0.1},{"x":18850,"y":0.25},{"x":18900,"y":0.05},{"x":18950,"y":0.2},{"x":19000,"y":0.03},{"x":19250,"y":0.03},{"x":19300,"y":0.0},{"x":19330,"y":0.23},{"x":19360,"y":0.0},{"x":19540,"y":0.0},{"x":19550,"y":0.03},{"x":19570,"y":0.0},{"x":19760,"y":0.0},{"x":19770,"y":0.03},{"x":19790,"y":0.0},{"x":20000,"y":0.0}]
},
"vconcat": [
 {"width": 855.6, "height": 93, "data": {"name": "clean"},
  "layer": [
   {"mark": {"type": "line", "color": "black", "strokeWidth": 1.6},
    "encoding": {
     "x": {"field": "x", "type": "quantitative", "scale": {"domain": [0, 20000], "nice": false, "zero": false}, "axis": {"orient": "bottom", "values": [0,2000,4000,6000,8000,10000,12000,14000,16000,18000,20000], "labelExpr": "format(datum.value/10000,'~g')", "labelPadding": 17, "title": "Recovered Firing Curve from Clean EMG", "titlePadding": 2}},
     "y": {"field": "y", "type": "quantitative", "scale": {"domain": [-1, 1], "nice": false}, "axis": {"orient": "left", "values": [-1,0,1], "labelExpr": "format(datum.value,'~g')", "labelPadding": 16, "title": null}}}},
   {"mark": {"type": "line", "opacity": 0},
    "encoding": {
     "x": {"field": "x", "type": "quantitative", "axis": {"orient": "top", "values": [0,2000,4000,6000,8000,10000,12000,14000,16000,18000,20000], "labels": false, "title": null}},
     "y": {"field": "y", "type": "quantitative", "axis": {"orient": "right", "values": [-1,0,1], "labels": false, "title": null}}}},
   {"data": {"values": [{"t": "x 10"}]}, "mark": {"type": "text", "align": "right", "baseline": "alphabetic", "fontSize": 19, "dx": -15, "dy": 70},
    "encoding": {"x": {"datum": 20000, "axis": null}, "y": {"datum": -1, "axis": null}, "text": {"field": "t"}}},
   {"data": {"values": [{"t": "4"}]}, "mark": {"type": "text", "align": "left", "baseline": "alphabetic", "fontSize": 14, "dx": -14, "dy": 60},
    "encoding": {"x": {"datum": 20000, "axis": null}, "y": {"datum": -1, "axis": null}, "text": {"field": "t"}}}
  ],
  "resolve": {"axis": {"x": "independent", "y": "independent"}}},
 {"width": 855.6, "height": 93, "data": {"name": "amp"},
  "layer": [
   {"mark": {"type": "line", "color": "black", "strokeWidth": 1.6},
    "encoding": {
     "x": {"field": "x", "type": "quantitative", "scale": {"domain": [0, 20000], "nice": false, "zero": false}, "axis": {"orient": "bottom", "values": [0,2000,4000,6000,8000,10000,12000,14000,16000,18000,20000], "labelExpr": "format(datum.value/10000,'~g')", "labelPadding": 17, "title": "Recovered Firing Curve from Amplitude Varied EMG", "titlePadding": 2}},
     "y": {"field": "y", "type": "quantitative", "scale": {"domain": [-1, 1], "nice": false}, "axis": {"orient": "left", "values": [-1,0,1], "labelExpr": "format(datum.value,'~g')", "labelPadding": 16, "title": null}}}},
   {"mark": {"type": "line", "opacity": 0},
    "encoding": {
     "x": {"field": "x", "type": "quantitative", "axis": {"orient": "top", "values": [0,2000,4000,6000,8000,10000,12000,14000,16000,18000,20000], "labels": false, "title": null}},
     "y": {"field": "y", "type": "quantitative", "axis": {"orient": "right", "values": [-1,0,1], "labels": false, "title": null}}}},
   {"data": {"values": [{"t": "x 10"}]}, "mark": {"type": "text", "align": "right", "baseline": "alphabetic", "fontSize": 19, "dx": -15, "dy": 70},
    "encoding": {"x": {"datum": 20000, "axis": null}, "y": {"datum": -1, "axis": null}, "text": {"field": "t"}}},
   {"data": {"values": [{"t": "4"}]}, "mark": {"type": "text", "align": "left", "baseline": "alphabetic", "fontSize": 14, "dx": -14, "dy": 60},
    "encoding": {"x": {"datum": 20000, "axis": null}, "y": {"datum": -1, "axis": null}, "text": {"field": "t"}}}
  ],
  "resolve": {"axis": {"x": "independent", "y": "independent"}}},
 {"width": 855.6, "height": 93, "data": {"name": "noisy"},
  "layer": [
   {"mark": {"type": "line", "color": "black", "strokeWidth": 1.6},
    "encoding": {
     "x": {"field": "x", "type": "quantitative", "scale": {"domain": [0, 20000], "nice": false, "zero": false}, "axis": {"orient": "bottom", "values": [0,2000,4000,6000,8000,10000,12000,14000,16000,18000,20000], "labelExpr": "format(datum.value/10000,'~g')", "labelPadding": 17, "title": "Recovered Firing Curve from Noisy EMG", "titlePadding": 2}},
     "y": {"field": "y", "type": "quantitative", "scale": {"domain": [-1, 1], "nice": false}, "axis": {"orient": "left", "values": [-1,0,1], "labelExpr": "format(datum.value,'~g')", "labelPadding": 16, "title": null}}}},
   {"mark": {"type": "line", "opacity": 0},
    "encoding": {
     "x": {"field": "x", "type": "quantitative", "axis": {"orient": "top", "values": [0,2000,4000,6000,8000,10000,12000,14000,16000,18000,20000], "labels": false, "title": null}},
     "y": {"field": "y", "type": "quantitative", "axis": {"orient": "right", "values": [-1,0,1], "labels": false, "title": null}}}},
   {"data": {"values": [{"t": "x 10"}]}, "mark": {"type": "text", "align": "right", "baseline": "alphabetic", "fontSize": 19, "dx": -15, "dy": 70},
    "encoding": {"x": {"datum": 20000, "axis": null}, "y": {"datum": -1, "axis": null}, "text": {"field": "t"}}},
   {"data": {"values": [{"t": "4"}]}, "mark": {"type": "text", "align": "left", "baseline": "alphabetic", "fontSize": 14, "dx": -14, "dy": 60},
    "encoding": {"x": {"datum": 20000, "axis": null}, "y": {"datum": -1, "axis": null}, "text": {"field": "t"}}}
  ],
  "resolve": {"axis": {"x": "independent", "y": "independent"}}},
 {"width": 855.6, "height": 93, "data": {"name": "norm"},
  "layer": [
   {"mark": {"type": "line", "color": "black", "strokeWidth": 2.6},
    "encoding": {
     "x": {"field": "x", "type": "quantitative", "scale": {"domain": [0, 20000], "nice": false, "zero": false}, "axis": {"orient": "bottom", "values": [0,2000,4000,6000,8000,10000,12000,14000,16000,18000,20000], "labelExpr": "format(datum.value/10000,'~g')", "labelPadding": 17, "title": "Normalized Firing Curve", "titlePadding": 2}},
     "y": {"field": "y", "type": "quantitative", "scale": {"domain": [0, 1], "nice": false}, "axis": {"orient": "left", "values": [0,0.5,1], "labelExpr": "format(datum.value,'~g')", "labelPadding": 16, "title": null}}}},
   {"mark": {"type": "line", "opacity": 0},
    "encoding": {
     "x": {"field": "x", "type": "quantitative", "axis": {"orient": "top", "values": [0,2000,4000,6000,8000,10000,12000,14000,16000,18000,20000], "labels": false, "title": null}},
     "y": {"field": "y", "type": "quantitative", "axis": {"orient": "right", "values": [0,0.5,1], "labels": false, "title": null}}}},
   {"data": {"values": [{"t": "x 10"}]}, "mark": {"type": "text", "align": "right", "baseline": "alphabetic", "fontSize": 19, "dx": -15, "dy": 63},
    "encoding": {"x": {"datum": 20000, "axis": null}, "y": {"datum": 0, "axis": null}, "text": {"field": "t"}}},
   {"data": {"values": [{"t": "4"}]}, "mark": {"type": "text", "align": "left", "baseline": "alphabetic", "fontSize": 14, "dx": -14, "dy": 53},
    "encoding": {"x": {"datum": 20000, "axis": null}, "y": {"datum": 0, "axis": null}, "text": {"field": "t"}}}
  ],
  "resolve": {"axis": {"x": "independent", "y": "independent"}}}
]
}
